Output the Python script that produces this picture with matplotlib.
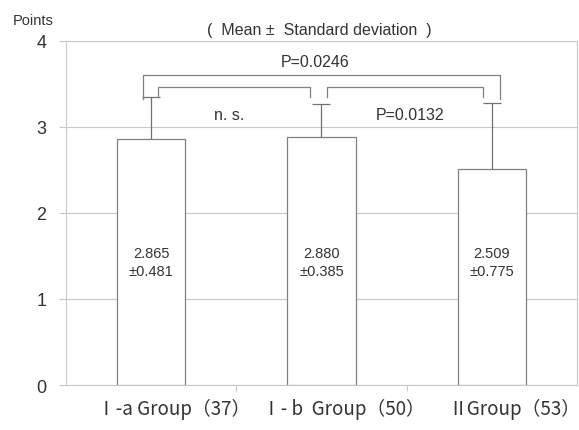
import matplotlib
matplotlib.use("Agg")
import matplotlib.pyplot as plt

plt.rcParams['font.family'] = ['Liberation Sans', 'Noto Sans CJK JP', 'DejaVu Sans']

groups = ["Ⅰ-a Group（37）", "Ⅰ- b  Group（50）", "ⅡGroup（53）"]
means = [2.865, 2.880, 2.509]
sds = [0.481, 0.385, 0.775]
value_labels = ["2.865\n±0.481", "2.880\n±0.385", "2.509\n±0.775"]
yticks = [0, 1, 2, 3, 4]
comparisons = [(0, 2, "P=0.0246"), (0, 1, "n. s."), (1, 2, "P=0.0132")]

fig = plt.figure(figsize=(5.79, 4.31), dpi=100)
ax = fig.add_axes([0.114, 0.1044, 0.8825, 0.7982])

x = list(range(len(groups)))
edge = "#808080"
grid = "#c8c8c8"
tops = [m + s for m, s in zip(means, sds)]
ax.bar(x, means, width=0.4, color="white", edgecolor=edge, linewidth=0.9, zorder=3)
ax.errorbar(x, means, yerr=[[0]*3, sds], fmt="none", ecolor="#707070",
            elinewidth=0.9, capsize=0, zorder=4)
ax.plot(x, tops, linestyle="none", marker="_", markersize=13, markeredgewidth=0.9,
        color="#707070", zorder=4)

ax.set_xlim(-0.5, 2.5)
ax.set_ylim(0, 4)
ax.set_yticks(yticks)
ax.set_yticklabels([str(t) for t in yticks], fontsize=13, color="#333333")
ax.yaxis.grid(True, color=grid, linewidth=0.8, zorder=0)
ax.tick_params(axis="y", length=5, color=grid, pad=9)
ax.set_xticks([0.5, 1.5], minor=False)
ax.set_xticklabels(["", ""])
ax.tick_params(axis="x", length=4, color=grid)
for i, g in enumerate(groups):
    ax.text(i + 0.13, -0.27, g, ha="center", va="center", fontsize=13.5,
            color="#333333", family=['Noto Sans CJK JP', 'DejaVu Sans'])
for s in ax.spines.values():
    s.set_color(grid)
    s.set_linewidth(0.8)

for i, lab in enumerate(value_labels):
    ax.text(i, 1.43, lab, ha="center", va="center", fontsize=10.5, color="#333333",
            linespacing=1.45)

# brackets
bracket_geom = {(0, 2): (-0.05, 2.05, 3.60, 3.33),
                (0, 1): (0.04, 0.935, 3.46, 3.35),
                (1, 2): (1.035, 1.95, 3.46, 3.35)}
text_pos = {(0, 2): (0.96, 3.76), (0, 1): (0.46, 3.14), (1, 2): (1.52, 3.14)}
for a, b, lab in comparisons:
    x0, x1, top, bot = bracket_geom[(a, b)]
    ax.plot([x0, x0, x1, x1], [bot, top, top, bot], color="#808080", lw=0.9,
            zorder=5, clip_on=False)
    tx, ty = text_pos[(a, b)]
    ax.text(tx, ty, lab, ha="center", va="center", fontsize=11.5, color="#333333")

ax.text(0.99, 4.13, "(  Mean ±  Standard deviation  )", ha="center", va="center",
        fontsize=11.5, color="#333333", clip_on=False)
fig.text(33/579, 1-21/431, "Points", ha="center", va="center", fontsize=10.5,
         color="#333333")

fig.savefig("out.png", dpi=100)
